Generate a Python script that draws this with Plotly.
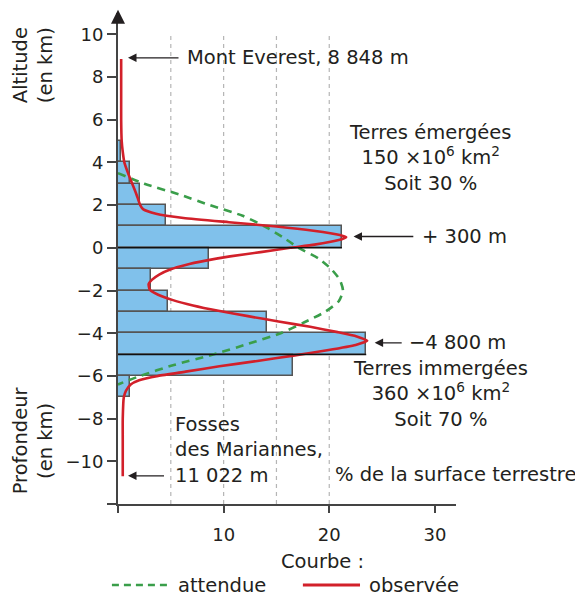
import plotly.graph_objects as go

# ---- data ----
bin_lower = [4, 3, 2, 1, 0, -1, -2, -3, -4, -5, -6, -7]
bin_pct = [0.25, 1.1, 2.1, 4.5, 21.2, 8.6, 3.1, 4.7, 14.1, 23.5, 16.6, 1.1]

obs_alt = [8.85, 7, 6, 5, 4.5, 4, 3.5, 3, 2.5, 2, 1.8, 1.6, 1.4, 1.2, 1.0, 0.8, 0.6, 0.5,
           0.35, 0.15, 0, -0.2, -0.4, -0.6, -0.8, -1.0, -1.25, -1.5, -1.7, -1.95, -2.2,
           -2.45, -2.7, -2.95, -3.2, -3.45, -3.7, -3.95, -4.15, -4.35, -4.55, -4.8, -5.05,
           -5.3, -5.55, -5.8, -6.0, -6.2, -6.4, -6.7, -7.0, -8, -9, -10.7]
obs_pct = [0.3, 0.3, 0.3, 0.35, 0.45, 0.6, 0.95, 1.35, 1.75, 2.1, 2.4, 3.6, 6.2, 10.5, 15.0,
           18.5, 21.0, 21.6, 20.8, 18.6, 16.3, 13.5, 10.6, 8.3, 6.4, 5.0, 3.9, 3.2, 2.9, 3.0,
           3.8, 5.2, 7.1, 9.5, 12.3, 15.2, 18.2, 20.8, 22.6, 23.6, 22.5, 19.8, 16.6, 13.2,
           9.6, 6.4, 3.8, 2.0, 1.2, 0.75, 0.55, 0.45, 0.45, 0.45]

exp_alt = [3.5, 3, 2.5, 2, 1.5, 1, 0.5, 0, -0.5, -1, -1.5, -2, -2.5, -3, -3.5, -4, -4.5,
           -5, -5.5, -6, -6.4]
exp_pct = [0, 2.5, 5.8, 8.7, 11.8, 13.9, 15.6, 17.1, 19.0, 20.2, 21.0, 21.3, 20.9, 19.6,
           17.6, 15.4, 12.3, 9.0, 5.2, 2.1, 0]

y_ticks = [-12, -10, -8, -6, -4, -2, 0, 2, 4, 6, 8, 10]
y_labels = ["", "\u221210", "\u22128", "\u22126", "\u22124", "\u22122", "0", "2", "4", "6", "8", "10"]
x_ticks = [0, 10, 20, 30]
x_labels = ["", "10", "20", "30"]
grid_x = [5, 10, 15, 20]

FONT = "DejaVu Sans"
TXT = "#231f20"
BLUE = "#80c1eb"
RED = "#d2202a"
GREEN = "#3a9e4a"

fig = go.Figure()
fig.add_trace(go.Bar(
    orientation="h", y=[b + 0.5 for b in bin_lower], x=bin_pct, width=1,
    marker=dict(color=BLUE, line=dict(color="#555555", width=1.5)), showlegend=False))
fig.add_trace(go.Scatter(
    x=exp_pct, y=exp_alt, mode="lines", line=dict(color=GREEN, width=2.6, dash="8px,6px", shape="spline", smoothing=0.6),
    showlegend=False))
fig.add_trace(go.Scatter(
    x=obs_pct, y=obs_alt, mode="lines", line=dict(color=RED, width=2.6, shape="spline", smoothing=0.5),
    showlegend=False))

shapes = []
for gx in grid_x:
    shapes.append(dict(type="line", xref="x", yref="y", x0=gx, x1=gx, y0=-12, y1=10,
                       line=dict(color="#b5b5b5", width=1.2, dash="4px,4px"), layer="below"))
# darker edges (sea level and -5 km)
for edge, idx in [(0, bin_lower.index(0)), (-5, bin_lower.index(-5))]:
    shapes.append(dict(type="line", xref="x", yref="y", x0=0, x1=bin_pct[idx], y0=edge, y1=edge,
                       line=dict(color="#111111", width=1.5)))
# legend lines
shapes.append(dict(type="line", xref="paper", yref="paper", x0=-0.018, x1=0.145, y0=-0.165, y1=-0.165,
                   line=dict(color=GREEN, width=2.6, dash="7px,5px")))
shapes.append(dict(type="line", xref="paper", yref="paper", x0=0.547, x1=0.716, y0=-0.165, y1=-0.165,
                   line=dict(color=RED, width=2.8)))

ann = []
def text(x, y, t, xanchor="left", xref="x", yref="y", size=19.5, align="left", angle=0):
    ann.append(dict(x=x, y=y, xref=xref, yref=yref, text=t, showarrow=False, xanchor=xanchor,
                    yanchor="middle", align=align, textangle=angle,
                    font=dict(family=FONT, size=size, color=TXT)))

def arrow(x_tip, x_tail, y):
    ann.append(dict(x=x_tip, y=y, ax=x_tail, ay=y, xref="x", yref="y", axref="x", ayref="y",
                    text="", showarrow=True, arrowhead=2, arrowsize=1.3, arrowwidth=1.3,
                    arrowcolor="#231f20"))

text(6.34, 8.9, "Mont Everest, 8 848 m")
arrow(0.95, 5.87, 8.9)
text(29.5, 4.2, "Terres émergées<br>150 ×10<sup>6</sup> km<sup>2</sup><br>Soit 30 %", xanchor="center", align="center")
text(28.6, 0.53, "+ 300 m")
arrow(22.3, 28.1, 0.53)
text(27.4, -4.45, "\u22124 800 m")
arrow(24.3, 27.0, -4.45)
text(30.5, -6.84, "Terres immergées<br>360 ×10<sup>6</sup> km<sup>2</sup><br>Soit 70 %", xanchor="center", align="center")
text(5.2, -9.46, "Fosses<br>des Mariannes,<br>11 022 m")
arrow(0.95, 4.5, -10.68)
text(20.36, -10.63, "% de la surface terrestre")
text(-0.251, 0.894, "Altitude<br>(en km)", xanchor="center", xref="paper", yref="paper", align="center", angle=-90)
text(-0.251, 0.130, "Profondeur<br>(en km)", xanchor="center", xref="paper", yref="paper", align="center", angle=-90)
text(0.604, -0.118, "Courbe :", xanchor="center", xref="paper", yref="paper")
text(0.172, -0.165, "attendue", xref="paper", yref="paper")
text(0.737, -0.165, "observée", xref="paper", yref="paper")
# y-axis arrow head
ann.append(dict(x=0, y=11.15, ax=0, ay=10.55, xref="x", yref="y", axref="x", ayref="y", text="",
                showarrow=True, arrowhead=2, arrowsize=1.4, arrowwidth=2, arrowcolor="#231f20"))

fig.update_layout(
    width=575, height=591, margin=dict(l=110, r=127, t=5, b=95),
    paper_bgcolor="white", plot_bgcolor="white", bargap=0,
    shapes=shapes, annotations=ann,
    font=dict(family=FONT, color=TXT, size=18),
    xaxis=dict(range=[0, 32], showline=True, linecolor="#444444", linewidth=2,
               ticks="outside", ticklen=7, tickwidth=1.5, tickcolor="#444444",
               tickvals=x_ticks, ticktext=x_labels, showgrid=False, zeroline=False,
               ticklabelstandoff=6,
               tickfont=dict(family=FONT, size=18, color=TXT)),
    yaxis=dict(range=[-12, 11], showline=True, linecolor="#444444", linewidth=2,
               ticks="outside", ticklen=9, tickwidth=1.5, tickcolor="#444444",
               tickvals=y_ticks, ticktext=y_labels, showgrid=False, zeroline=False,
               tickfont=dict(family=FONT, size=18, color=TXT)),
)

fig.write_html("out.html")
